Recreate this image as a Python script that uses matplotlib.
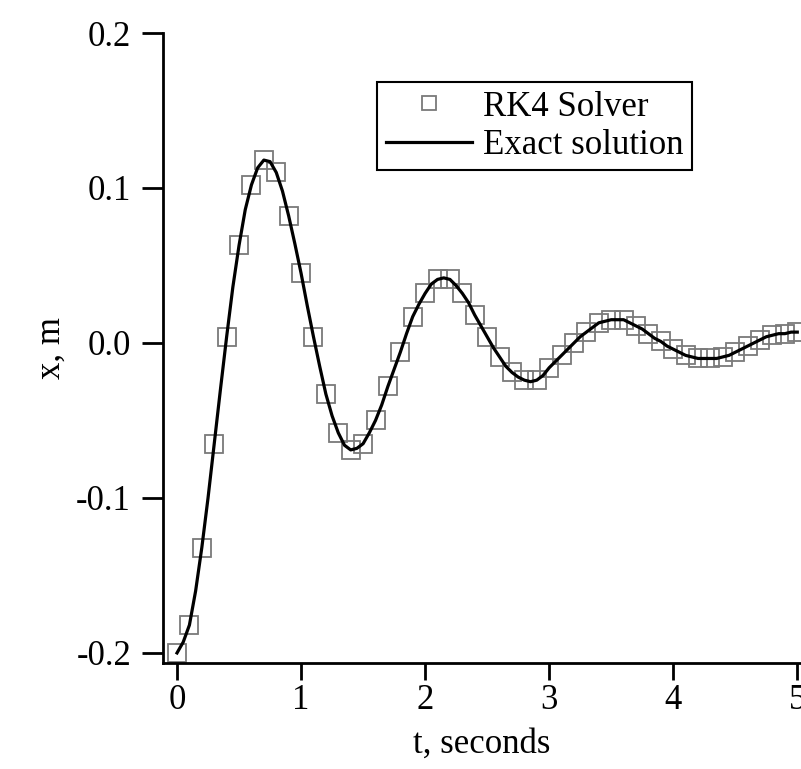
import matplotlib
matplotlib.use("Agg")
import matplotlib.pyplot as plt
import numpy as np

# time samples (s) and displacement (m) of the RK4 solution
t_rk4 = np.arange(0, 51) * 0.1
x_rk4 = [-0.200, -0.182, -0.132, -0.065, 0.004, 0.063, 0.102, 0.118, 0.110, 0.082,
         0.045, 0.004, -0.033, -0.058, -0.069, -0.065, -0.050, -0.028, -0.006, 0.017,
         0.032, 0.041, 0.041, 0.032, 0.018, 0.004, -0.009, -0.019, -0.024, -0.024,
         -0.016, -0.008, 0.000, 0.007, 0.013, 0.015, 0.015, 0.011, 0.006, 0.001,
         -0.004, -0.008, -0.010, -0.010, -0.009, -0.006, -0.002, 0.002, 0.005, 0.006,
         0.007]

# exact solution, sampled every 0.05 s
t_exact = np.arange(0, 101) * 0.05
x_exact = [-0.200, -0.193, -0.182, -0.160, -0.132, -0.100, -0.065, -0.030, 0.004, 0.036,
           0.063, 0.086, 0.102, 0.113, 0.118, 0.117, 0.110, 0.098, 0.082, 0.064,
           0.045, 0.024, 0.004, -0.015, -0.033, -0.047, -0.058, -0.066, -0.069, -0.068,
           -0.065, -0.058, -0.050, -0.040, -0.028, -0.017, -0.006, 0.006, 0.017, 0.025,
           0.032, 0.038, 0.041, 0.042, 0.041, 0.037, 0.032, 0.026, 0.018, 0.011,
           0.004, -0.003, -0.009, -0.015, -0.019, -0.022, -0.024, -0.025, -0.024, -0.021,
           -0.016, -0.012, -0.008, -0.004, 0.000, 0.004, 0.007, 0.010, 0.013, 0.014,
           0.015, 0.015, 0.015, 0.013, 0.011, 0.009, 0.006, 0.003, 0.001, -0.002,
           -0.004, -0.006, -0.008, -0.009, -0.010, -0.010, -0.010, -0.010, -0.009, -0.008,
           -0.006, -0.004, -0.002, 0.000, 0.002, 0.004, 0.005, 0.006, 0.006, 0.007,
           0.007]

xticks = [0, 1, 2, 3, 4, 5]
yticks = [-0.2, -0.1, 0.0, 0.1, 0.2]
yticklabels = ["-0.2", "-0.1", "0.0", "0.1", "0.2"]

plt.rcParams["font.family"] = ["Liberation Serif", "DejaVu Serif"]

fig = plt.figure(figsize=(8.01, 7.69), dpi=100)
ax = fig.add_axes([163 / 801, 1 - 663 / 769, 1 - 163 / 801, (663 - 33) / 769])

ax.plot(t_rk4, x_rk4, linestyle="none", marker="s", markersize=13, markerfacecolor="none",
        markeredgecolor="#7a7a7a", markeredgewidth=1.3, label="RK4 Solver")
ax.plot(t_exact, x_exact, color="black", linewidth=2.3, label="Exact solution")

ax.set_xlim(-0.113, 5.03)
ax.set_ylim(-0.2065, 0.2)
ax.set_xticks(xticks)
ax.set_yticks(yticks)
ax.set_yticklabels(yticklabels)

for side in ["top", "right"]:
    ax.spines[side].set_visible(False)
for side in ["left", "bottom"]:
    ax.spines[side].set_linewidth(2)
ax.tick_params(axis="y", direction="out", length=15, width=2, labelsize=25, pad=8)
ax.tick_params(axis="x", direction="out", length=12, width=2, labelsize=25, pad=3)

ax.set_xlabel("t, seconds", fontsize=25, labelpad=8)
ax.set_ylabel("x, m", fontsize=25, labelpad=6)

leg = ax.legend(loc="upper left", bbox_to_anchor=(0.308, 0.95), fontsize=25,
                frameon=True, fancybox=False, edgecolor="black", framealpha=1,
                handlelength=2.5, handletextpad=0.3, borderpad=0.25,
                labelspacing=0.15, markerscale=0.75)
leg.get_frame().set_linewidth(1.5)

fig.savefig("out.png", dpi=100)
